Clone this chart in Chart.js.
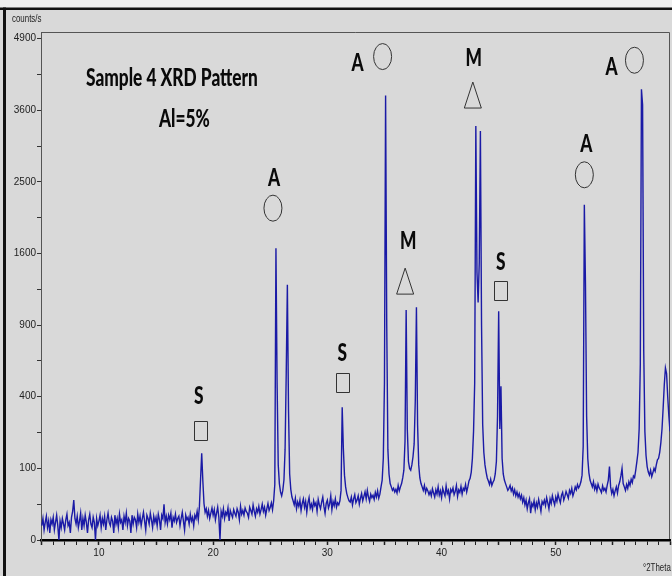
<!DOCTYPE html>
<html>
<head>
<meta charset="utf-8">
<title>Sample 4 XRD Pattern</title>
<script src="https://cdn.jsdelivr.net/npm/chart.js@4/dist/chart.umd.min.js"></script>
<style>
  html, body { margin: 0; padding: 0; background: #d9d9d9; }
  #wrap { width: 672px; height: 576px; }
</style>
</head>
<body>
<div id="wrap"><canvas id="xrdChart" width="672" height="576"></canvas></div>
<script>
// scan: 5.0 to 60.0 °2Theta, 0.1° per step
const scanStart = 5.0;
const scanStep = 0.1;

// counts/s, one row per degree
const counts = [
  4, 9, 2, 6, 11, 3, 7, 1, 8, 5,               // 5
  10, 2, 6, 12, 4, 0, 7, 3, 9, 5,              // 6
  2, 8, 13, 4, 6, 1, 10, 16, 31, 9,            // 7
  5, 11, 3, 7, 14, 2, 9, 4, 12, 6,             // 8
  1, 8, 13, 5, 3, 10, 6, 0, 9, 4,              // 9
  7, 12, 3, 9, 5, 11, 2, 8, 14, 6,             // 10
  4, 10, 7, 1, 12, 5, 9, 3, 13, 6,             // 11
  8, 2, 11, 6, 14, 4, 9, 7, 1, 12,             // 12
  5, 10, 8, 3, 13, 6, 11, 4, 9, 15,            // 13
  7, 2, 12, 9, 5, 14, 8, 3, 11, 6,             // 14
  10, 4, 13, 8, 2, 12, 9, 25, 6, 11,           // 15
  5, 12, 8, 14, 3, 10, 7, 13, 6, 9,            // 16
  11, 4, 9, 15, 7, 2, 12, 8, 10, 5,            // 17
  13, 7, 10, 4, 12, 9, 16, 8, 22, 72,          // 18
  147, 68, 26, 15, 19, 11, 17, 9, 14, 20,      // 19
  12, 18, 8, 14, 21, 10, 0, 16, 11, 19,        // 20
  9, 15, 12, 20, 7, 17, 13, 10, 18, 14,        // 21
  11, 19, 15, 8, 22, 13, 17, 12, 20, 16,       // 22
  14, 10, 21, 17, 13, 24, 16, 11, 19, 15,      // 23
  22, 13, 18, 25, 16, 21, 12, 19, 26, 17,      // 24
  21, 27, 18, 30, 60, 1660, 480, 110, 62, 45,  // 25
  38, 48, 70, 160, 540, 1270, 330, 85, 50, 36, // 26
  30, 24, 34, 19, 28, 22, 31, 17, 26, 33,      // 27
  21, 29, 15, 27, 35, 20, 25, 18, 30, 23,      // 28
  27, 16, 32, 24, 19, 28, 36, 22, 14, 26,      // 29
  31, 20, 25, 38, 18, 29, 23, 33, 21, 27,      // 30
  24, 30, 48, 343, 165, 82, 55, 42, 35, 30,    // 31
  28, 36, 24, 33, 40, 27, 31, 38, 25, 34,      // 32
  42, 30, 37, 45, 33, 48, 36, 29, 41, 35,      // 33
  39, 32, 44, 36, 47, 34, 41, 55, 70, 130,     // 34
  480, 3850, 900, 160, 85, 62, 55, 48, 52, 45, // 35
  50, 43, 58, 47, 55, 62, 75, 95, 190, 1030,   // 36
  240, 120, 100, 95, 110, 135, 180, 380, 1056, 260, // 37
  110, 75, 62, 55, 48, 58, 44, 52, 47, 40,     // 38
  46, 38, 51, 43, 36, 49, 41, 55, 39, 47,      // 39
  35, 52, 44, 38, 57, 42, 48, 33, 50, 45,      // 40
  53, 40, 46, 58, 37, 49, 44, 56, 41, 52,      // 41
  48, 60, 45, 55, 68, 74, 90, 130, 230, 480,   // 42
  3340, 1400, 1100, 1500, 3260, 900, 260, 150, 110, 90, // 43
  75, 68, 60, 72, 58, 65, 70, 85, 120, 300,    // 44
  1020, 240, 460, 130, 85, 70, 62, 55, 48, 52, // 45
  58, 47, 53, 41, 49, 38, 45, 36, 42, 33,      // 46
  39, 28, 35, 24, 31, 19, 27, 33, 14, 26,      // 47
  22, 30, 18, 27, 21, 32, 24, 16, 29, 25,      // 48
  31, 23, 35, 27, 19, 33, 26, 38, 30, 24,      // 49
  36, 29, 41, 33, 27, 39, 44, 31, 37, 46,      // 50
  40, 34, 48, 42, 52, 38, 45, 55, 49, 60,      // 51
  53, 58, 66, 82, 170, 2190, 1270, 300, 130, 88, // 52
  70, 62, 55, 66, 50, 58, 47, 61, 53, 49,      // 53
  44, 57, 48, 52, 45, 58, 70, 105, 55, 42,     // 54
  50, 38, 47, 55, 43, 58, 66, 80, 100, 62,     // 55
  55, 48, 60, 52, 66, 58, 72, 64, 80, 76,      // 56
  95, 120, 150, 240, 600, 3960, 3690, 700, 230, 140, // 57
  105, 90, 82, 95, 78, 88, 100, 92, 110, 125,  // 58
  130, 150, 185, 240, 340, 470, 577, 540, 400, 300, // 59
  230                                          // 60
];

const twoTheta = counts.map((_, i) => +(scanStart + i * scanStep).toFixed(1));

// axis ticks
const xTicks = [];
for (let t = 5; t <= 60; t++) xTicks.push(t);
const xTickLabels = [10, 20, 30, 40, 50];
const yTickLabels = [0, 100, 400, 900, 1600, 2500, 3600, 4900];
const yMinorTicks = [25, 225, 625, 1225, 2025, 3025, 4225];

// phase markers: A = circle, M = triangle, S = square
const peakTheta = [19.0, 25.5, 31.3, 35.1, 36.9, 43.0, 45.0, 52.5, 57.5];
const peakPhase = ["S", "A", "S", "A", "M", "M", "S", "A", "A"];

const phaseShape = { A: "circle", M: "triangle", S: "square" };
// [symbol dx, symbol lift, letter dx, letter lift] in px above the peak top
const markerPlacement = [
  [-1, 23, -3, 58],
  [-3, 40, -2, 71],
  [0, 25, 0, 55],
  [-3, 39, -28, 33],
  [-1, 29, 2, 70],
  [-3, 31, -2, 69],
  [2, 21, 2, 50],
  [0, 30, 2, 61],
  [-7, 29, -30, 23]
];

// square-root intensity axis, like the diffractometer software
class SqrtScale extends Chart.LinearScale {
  getPixelForValue(value) {
    if (value === null || value === undefined || isNaN(value)) return NaN;
    const lo = Math.sqrt(Math.max(this.min, 0));
    const hi = Math.sqrt(Math.max(this.max, 0));
    return this.getPixelForDecimal((Math.sqrt(Math.max(value, 0)) - lo) / (hi - lo));
  }
  getValueForPixel(pixel) {
    const lo = Math.sqrt(Math.max(this.min, 0));
    const hi = Math.sqrt(Math.max(this.max, 0));
    const s = lo + this.getDecimalForPixel(pixel) * (hi - lo);
    return s * s;
  }
}
SqrtScale.id = "sqrt";
SqrtScale.defaults = Chart.LinearScale.defaults;
Chart.register(SqrtScale);

const SQUEEZE = 0.72;
const LABEL_FONT = "900 24px Lato";

function squeezedText(ctx, text, x, y, font, align) {
  ctx.save();
  ctx.font = font;
  ctx.textBaseline = "alphabetic";
  const w = ctx.measureText(text).width * SQUEEZE;
  let left = x;
  if (align === "center") left = x - w / 2;
  ctx.translate(left, y);
  ctx.scale(SQUEEZE, 1);
  ctx.textAlign = "left";
  ctx.fillText(text, 0, 0);
  ctx.restore();
}

const framePlugin = {
  id: "frame",
  beforeDraw(chart) {
    const { ctx, chartArea: a } = chart;
    ctx.save();
    ctx.fillStyle = "#d9d9d9";
    ctx.fillRect(0, 0, chart.width, chart.height);
    ctx.fillStyle = "#eeeeee";
    ctx.fillRect(0, 0, chart.width, 8);
    // outer border
    ctx.fillStyle = "#111";
    ctx.fillRect(0, 7.5, chart.width, 2.5);
    ctx.fillRect(3, 7.5, 3, chart.height);
    // plot box top / right
    ctx.strokeStyle = "#555";
    ctx.lineWidth = 1;
    ctx.beginPath();
    ctx.moveTo(a.left, a.top + 0.5);
    ctx.lineTo(a.right - 0.5, a.top + 0.5);
    ctx.lineTo(a.right - 0.5, a.bottom);
    ctx.stroke();
    ctx.restore();
  },
  afterDraw(chart) {
    const { ctx } = chart;
    const xs = chart.scales.x, ys = chart.scales.y;
    ctx.save();
    ctx.fillStyle = "#0a0a0a";
    ctx.strokeStyle = "#333";
    ctx.lineWidth = 1;

    peakTheta.forEach((theta, i) => {
      const idx = Math.round((theta - scanStart) / scanStep);
      const px = xs.getPixelForValue(theta);
      const py = ys.getPixelForValue(counts[idx]);
      const [sdx, sLift, ldx, lLift] = markerPlacement[i];
      const sx = px + sdx, sy = py - sLift;
      const shape = phaseShape[peakPhase[i]];
      ctx.beginPath();
      if (shape === "circle") {
        ctx.ellipse(sx, sy, 9, 13, 0, 0, Math.PI * 2);
      } else if (shape === "triangle") {
        ctx.moveTo(sx, sy - 13);
        ctx.lineTo(sx + 8.5, sy + 13);
        ctx.lineTo(sx - 8.5, sy + 13);
        ctx.closePath();
      } else {
        ctx.rect(Math.round(sx - 6.5) + 0.5, Math.round(sy - 9.5) + 0.5, 13, 19);
      }
      ctx.stroke();
      squeezedText(ctx, peakPhase[i], px + ldx, py - lLift + 8.5, LABEL_FONT, "center");
    });

    // sample caption
    squeezedText(ctx, "Sample 4 XRD Pattern", 86, 86, LABEL_FONT, "left");
    squeezedText(ctx, "Al=5%", 159, 127, LABEL_FONT, "left");

    // axis units
    ctx.fillStyle = "#222";
    squeezedText(ctx, "counts/s", 12, 22, "11px 'Liberation Sans'", "left");
    squeezedText(ctx, "°2Theta", 643, 571, "11px 'Liberation Sans'", "left");
    ctx.restore();
  }
};

new Chart(document.getElementById("xrdChart"), {
  type: "line",
  data: {
    datasets: [{
      label: "Sample 4",
      data: counts.map((c, i) => ({ x: twoTheta[i], y: c })),
      borderColor: "#1a1aa6",
      borderWidth: 1.4,
      pointRadius: 0,
      tension: 0,
      fill: false
    }]
  },
  options: {
    responsive: false,
    devicePixelRatio: 1,
    animation: false,
    parsing: false,
    normalized: true,
    layout: { padding: { top: 32, right: 2, left: 0, bottom: 0 } },
    plugins: { legend: { display: false }, tooltip: { enabled: false } },
    scales: {
      x: {
        type: "linear",
        min: 4.93,
        max: 60,
        bounds: "data",
        afterBuildTicks: axis => { axis.ticks = xTicks.map(v => ({ value: v })); },
        afterFit: axis => { axis.height = 36; },
        ticks: {
          autoSkip: false,
          maxRotation: 0,
          padding: 2,
          color: "#222",
          font: { family: "'Liberation Sans', Arial, sans-serif", size: 10 },
          callback: v => (xTickLabels.includes(v) ? String(v) : "")
        },
        grid: {
          drawOnChartArea: false,
          drawTicks: true,
          tickLength: 5,
          tickColor: "#222",
          tickWidth: c => (c.tick && c.tick.value % 5 === 0 ? 1.5 : 1)
        },
        border: { display: true, color: "#000", width: 2.5 }
      },
      y: {
        type: "sqrt",
        min: 0,
        max: 5030,
        bounds: "data",
        afterBuildTicks: axis => {
          axis.ticks = yTickLabels.concat(yMinorTicks).sort((a, b) => a - b).map(v => ({ value: v }));
        },
        afterFit: axis => { axis.width = 41; },
        ticks: {
          autoSkip: false,
          padding: 1,
          color: "#222",
          font: { family: "'Liberation Sans', Arial, sans-serif", size: 10 },
          callback: v => (yTickLabels.includes(v) ? String(v) : "")
        },
        grid: {
          drawOnChartArea: false,
          drawTicks: true,
          tickLength: 4,
          tickColor: "#333"
        },
        border: { display: true, color: "#555", width: 1 }
      }
    }
  },
  plugins: [framePlugin]
});
</script>
</body>
</html>
